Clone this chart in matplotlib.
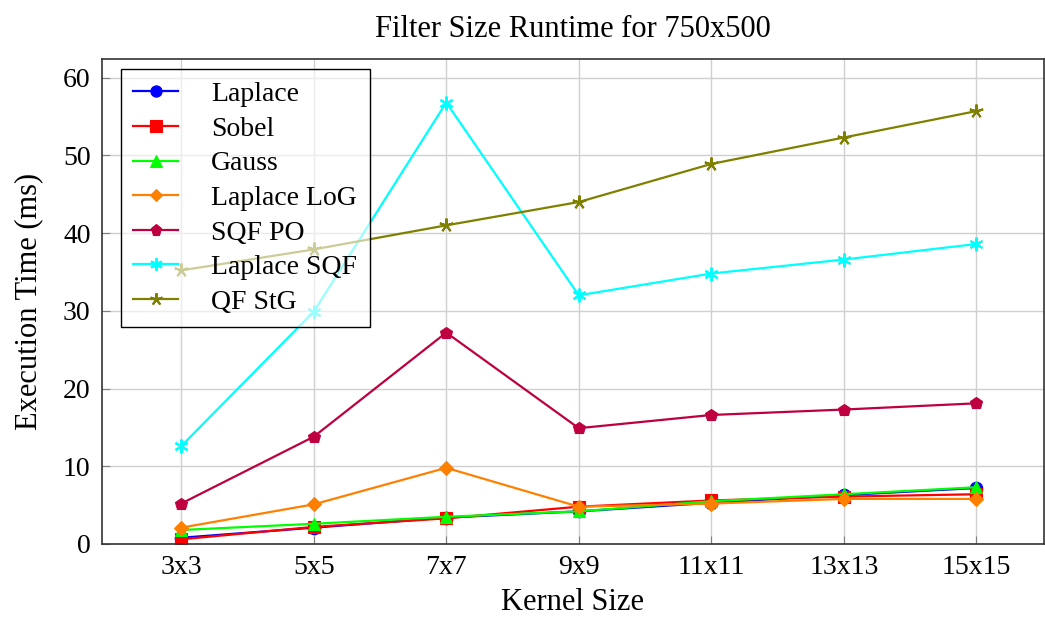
import numpy as np
import matplotlib
matplotlib.use("Agg")
import matplotlib.pyplot as plt

plt.rcParams['font.family'] = ['Liberation Serif', 'DejaVu Serif']

kernels = ["3x3", "5x5", "7x7", "9x9", "11x11", "13x13", "15x15"]

laplace = [0.8, 2.1, 3.4, 4.2, 5.3, 6.3, 7.2]
sobel = [0.6, 2.2, 3.3, 4.8, 5.6, 6.1, 6.4]
gauss = [1.8, 2.6, 3.5, 4.2, 5.5, 6.4, 7.3]
laplace_log = [2.1, 5.1, 9.8, 4.8, 5.2, 5.8, 5.8]
sqf_po = [5.2, 13.8, 27.2, 14.9, 16.6, 17.3, 18.1]
laplace_sqf = [12.6, 29.9, 56.8, 32.0, 34.8, 36.6, 38.6]
qf_stg = [35.2, 37.9, 41.0, 44.0, 48.9, 52.3, 55.7]

series = [
    ("Laplace", laplace, "#0000FF", "o"),
    ("Sobel", sobel, "#FF0000", "s"),
    ("Gauss", gauss, "#00FF00", "^"),
    ("Laplace LoG", laplace_log, "#FF8000", "D"),
    ("SQF PO", sqf_po, "#BF0040", "p"),
    ("Laplace SQF", laplace_sqf, "#00FFFF", (6, 2, 0)),
    ("QF StG", qf_stg, "#808000", (5, 2, 0)),
]

fig = plt.figure(figsize=(10.45, 6.2), dpi=100)
ax = fig.add_axes([0.0973, 0.1226, 0.9017, 0.7822])

x = np.arange(len(kernels))
for name, vals, col, mk in series:
    ms = 9
    if mk == "D":
        ms = 7
    elif isinstance(mk, tuple):
        ms = 10
    ax.plot(x, vals, color=col, marker=mk, markersize=ms, linewidth=1.6,
            markeredgewidth=1.5 if isinstance(mk, tuple) else 0.8,
            markeredgecolor=col, markerfacecolor=col, label=name)

ax.set_xlim(-0.6, 6.51)
ax.set_ylim(0, 62.4)
ax.set_xticks(x)
ax.set_xticklabels(kernels)
ax.set_yticks(np.arange(0, 61, 10))
ax.grid(True, color="#d0d0d0", linewidth=1)
ax.set_axisbelow(True)
ax.tick_params(direction="in", length=6, color="#808080", labelsize=20, pad=8)
for s in ax.spines.values():
    s.set_linewidth(1.2)
    s.set_color("#333333")

ax.set_title("Filter Size Runtime for 750x500", fontsize=22, pad=16)
ax.set_xlabel("Kernel Size", fontsize=22, labelpad=6)
ax.set_ylabel("Execution Time (ms)", fontsize=22, labelpad=14)

leg = ax.legend(loc="upper left", bbox_to_anchor=(0.0205, 0.979), fontsize=20,
                fancybox=False, handlelength=1.6, handletextpad=1.2,
                labelspacing=0.33, borderpad=0.45, borderaxespad=0,
                markerscale=0.9)
frame = leg.get_frame()
frame.set_alpha(None)
frame.set_facecolor((1, 1, 1, 0.6))
frame.set_edgecolor("black")
frame.set_linewidth(1.0)

fig.savefig("out.png", dpi=100)
